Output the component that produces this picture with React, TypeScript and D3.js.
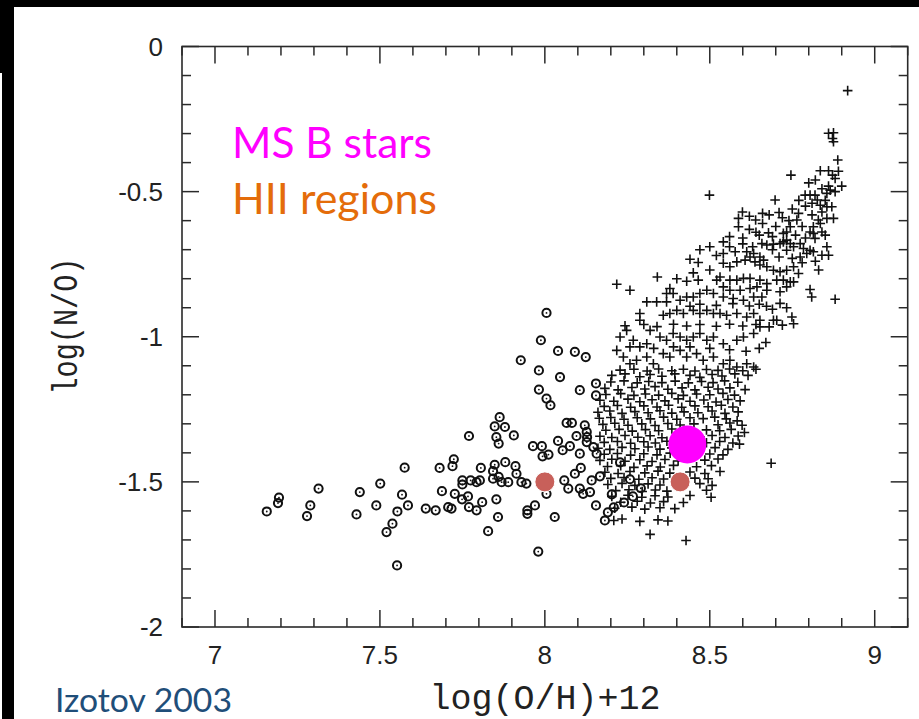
import React from "react";
import * as d3 from "d3";

// ---- data (log(O/H)+12, log(N/O)) ----
const dwarfCircles: [number, number][] = [
  [7.157,-1.602],[7.194,-1.554],[7.191,-1.573],[7.279,-1.618],[7.289,-1.581],[7.314,-1.523],
  [7.429,-1.612],[7.439,-1.535],[7.501,-1.506],[7.489,-1.581],[7.575,-1.451],[7.567,-1.544],
  [7.585,-1.581],[7.553,-1.602],[7.538,-1.644],[7.520,-1.673],[7.552,-1.788],[7.681,-1.452],
  [7.724,-1.422],[7.720,-1.446],[7.688,-1.532],[7.639,-1.592],[7.669,-1.598],[7.707,-1.587],
  [7.717,-1.592],[7.727,-1.541],[7.750,-1.495],[7.750,-1.509],[7.749,-1.560],[7.767,-1.550],
  [7.770,-1.587],[7.775,-1.495],[7.793,-1.598],[7.793,-1.501],[7.803,-1.495],[7.806,-1.452],
  [7.810,-1.570],[7.770,-1.342],[7.828,-1.670],[7.843,-1.489],[7.848,-1.441],[7.843,-1.463],
  [7.860,-1.483],[7.853,-1.560],[7.858,-1.621],[7.863,-1.277],[7.848,-1.309],[7.879,-1.311],
  [7.906,-1.340],[7.853,-1.346],[7.860,-1.368],[7.880,-1.432],[7.869,-1.501],[7.889,-1.501],
  [7.911,-1.446],[7.914,-1.472],[7.929,-1.501],[7.944,-1.506],[7.947,-1.598],[7.947,-1.610],
  [7.970,-1.581],[7.964,-1.377],[7.991,-1.377],[7.993,-1.412],[8.011,-1.406],[8.005,-1.541],
  [8.030,-1.621],[7.988,-1.012],[8.005,-0.918],[7.927,-1.081],[7.982,-1.116],[8.040,-1.049],
  [8.046,-1.139],[8.091,-1.052],[8.124,-1.070],[7.982,-1.182],[8.005,-1.213],[8.017,-1.236],
  [8.106,-1.184],[8.155,-1.161],[8.155,-1.202],[8.066,-1.297],[8.082,-1.297],[8.121,-1.305],
  [8.127,-1.328],[8.128,-1.346],[8.127,-1.363],[8.096,-1.342],[8.040,-1.359],[8.054,-1.391],
  [8.076,-1.377],[8.106,-1.403],[8.091,-1.472],[8.109,-1.452],[8.059,-1.495],[8.071,-1.523],
  [8.106,-1.523],[8.137,-1.535],[8.116,-1.541],[8.142,-1.495],[8.157,-1.403],[8.147,-1.380],
  [7.980,-1.740],[8.182,-1.633],[8.191,-1.605],[8.209,-1.588],[8.240,-1.571],[8.267,-1.550],
  [8.291,-1.522],[8.203,-1.543],[8.167,-1.481],[8.228,-1.433],[8.258,-1.491],[8.155,-1.581],
];

const spiralCrosses: [number, number][] = [
  [8.918,-0.152],[8.860,-0.299],[8.875,-0.297],[8.872,-0.317],[8.875,-0.328],[8.888,-0.391],
  [8.746,-0.443],[8.835,-0.428],[8.860,-0.428],[8.872,-0.443],[8.880,-0.455],[8.900,-0.481],
  [8.789,-0.512],[8.804,-0.512],[8.819,-0.512],[8.826,-0.529],[8.835,-0.547],[8.855,-0.552],
  [8.870,-0.552],[8.860,-0.481],[8.865,-0.495],[8.855,-0.506],[8.499,-0.512],[8.698,-0.529],
  [8.710,-0.572],[8.599,-0.570],[8.587,-0.592],[8.587,-0.621],[8.639,-0.598],[8.769,-0.575],
  [8.764,-0.598],[8.744,-0.621],[8.723,-0.644],[8.733,-0.639],[8.829,-0.598],[8.855,-0.592],
  [8.875,-0.592],[8.814,-0.621],[8.835,-0.610],[8.678,-0.642],[8.804,-0.639],[8.814,-0.644],
  [8.840,-0.639],[8.850,-0.650],[8.819,-0.661],[8.541,-0.673],[8.541,-0.713],[8.577,-0.707],
  [8.658,-0.679],[8.673,-0.684],[8.693,-0.681],[8.713,-0.679],[8.723,-0.673],[8.733,-0.667],
  [8.744,-0.679],[8.733,-0.702],[8.754,-0.690],[8.774,-0.679],[8.784,-0.696],[8.804,-0.702],
  [8.814,-0.707],[8.855,-0.690],[8.860,-0.719],[8.840,-0.719],[8.794,-0.713],[8.774,-0.725],
  [8.440,-0.733],[8.465,-0.744],[8.341,-0.794],[8.430,-0.809],[8.465,-0.805],[8.218,-0.819],
  [8.258,-0.840],[8.612,-0.707],[8.633,-0.713],[8.652,-0.725],[8.663,-0.736],
  [8.541,-0.747],[8.561,-0.759],[8.582,-0.742],[8.607,-0.736],[8.622,-0.725],[8.637,-0.742],
  [8.652,-0.753],[8.673,-0.759],[8.693,-0.771],[8.713,-0.776],[8.733,-0.771],[8.754,-0.759],
  [8.769,-0.782],[8.703,-0.805],[8.723,-0.805],[8.744,-0.811],[8.673,-0.817],[8.652,-0.805],
  [8.622,-0.799],[8.602,-0.799],[8.582,-0.805],[8.561,-0.805],[8.531,-0.794],[8.521,-0.805],
  [8.541,-0.828],[8.561,-0.840],[8.592,-0.840],[8.622,-0.834],[8.643,-0.828],[8.673,-0.840],
  [8.713,-0.845],[8.733,-0.828],[8.754,-0.811],[8.658,-0.863],[8.633,-0.863],[8.602,-0.874],
  [8.571,-0.868],[8.541,-0.863],[8.511,-0.851],[8.491,-0.840],[8.470,-0.851],[8.450,-0.863],
  [8.430,-0.863],[8.410,-0.874],[8.389,-0.851],[8.369,-0.851],[8.379,-0.834],
  [8.804,-0.837],[8.809,-0.863],[8.880,-0.871],[8.672,-0.895],[8.713,-0.885],[8.733,-0.900],[8.690,-0.905],
  [8.309,-0.880],[8.339,-0.880],[8.369,-0.880],[8.288,-0.920],[8.288,-0.943],
  [8.359,-0.926],[8.379,-0.920],[8.400,-0.909],[8.420,-0.920],[8.450,-0.909],[8.470,-0.920],
  [8.491,-0.909],[8.511,-0.920],[8.531,-0.920],[8.551,-0.926],[8.582,-0.920],[8.612,-0.932],
  [8.633,-0.920],[8.652,-0.943],[8.693,-0.943],[8.749,-0.932],[8.754,-0.955],
  [8.228,-1.001],[8.248,-0.978],[8.258,-1.035],[8.268,-1.012],[8.288,-1.035],[8.309,-1.024],
  [8.319,-0.978],[8.349,-1.001],[8.369,-1.012],[8.389,-0.989],[8.410,-1.001],[8.430,-1.012],
  [8.450,-1.001],[8.470,-0.989],[8.491,-1.012],[8.511,-1.001],[8.541,-1.024],[8.582,-1.012],
  [8.602,-1.001],[8.633,-0.989],[8.652,-0.966],[8.703,-0.943],
  [8.218,-1.047],[8.238,-1.070],[8.258,-1.093],[8.278,-1.081],[8.309,-1.070],[8.329,-1.093],
  [8.359,-1.058],[8.379,-1.070],[8.410,-1.047],[8.430,-1.070],[8.460,-1.058],[8.480,-1.081],
  [8.511,-1.070],[8.541,-1.093],[8.561,-1.081],[8.582,-1.104],[8.612,-1.093],[8.633,-1.104],
  [8.203,-1.133],[8.243,-1.128],[8.288,-1.138],[8.319,-1.130],[8.355,-1.136],[8.394,-1.128],
  [8.440,-1.133],[8.470,-1.140],[8.507,-1.130],[8.537,-1.135],[8.576,-1.128],[8.616,-1.133],
  [8.182,-1.178],[8.222,-1.183],[8.264,-1.175],[8.303,-1.180],[8.334,-1.172],[8.373,-1.181],
  [8.416,-1.176],[8.455,-1.183],[8.495,-1.174],[8.525,-1.180],[8.561,-1.176],[8.607,-1.182],
  [8.167,-1.219],[8.209,-1.222],[8.252,-1.215],[8.288,-1.224],[8.325,-1.217],[8.364,-1.221],
  [8.404,-1.214],[8.440,-1.222],[8.482,-1.218],[8.519,-1.225],[8.555,-1.216],[8.592,-1.221],
  [8.161,-1.260],[8.197,-1.256],[8.234,-1.264],[8.273,-1.258],[8.313,-1.262],[8.349,-1.255],
  [8.385,-1.263],[8.422,-1.259],[8.464,-1.262],[8.507,-1.256],[8.546,-1.264],[8.586,-1.259],
  [8.176,-1.302],[8.212,-1.298],[8.252,-1.305],[8.294,-1.300],[8.334,-1.306],[8.373,-1.299],
  [8.410,-1.304],[8.452,-1.300],[8.525,-1.303],[8.561,-1.297],[8.598,-1.305],[8.583,-1.290],
  [8.167,-1.343],[8.203,-1.347],[8.243,-1.340],[8.282,-1.346],[8.319,-1.341],[8.355,-1.348],
  [8.397,-1.342],[8.470,-1.345],[8.507,-1.340],[8.546,-1.347],[8.586,-1.342],
  [8.161,-1.384],[8.197,-1.388],[8.234,-1.381],[8.273,-1.386],[8.313,-1.380],[8.349,-1.387],
  [8.385,-1.383],[8.470,-1.386],[8.516,-1.382],[8.555,-1.388],
  [8.167,-1.426],[8.203,-1.422],[8.243,-1.429],[8.288,-1.424],[8.325,-1.430],[8.364,-1.423],
  [8.404,-1.428],[8.485,-1.425],[8.525,-1.421],[8.686,-1.436],
  [8.182,-1.467],[8.222,-1.471],[8.258,-1.464],[8.303,-1.469],[8.343,-1.463],[8.379,-1.470],
  [8.440,-1.466],[8.485,-1.471],[8.531,-1.464],
  [8.191,-1.509],[8.234,-1.505],[8.273,-1.512],[8.313,-1.507],[8.349,-1.511],[8.470,-1.506],[8.507,-1.512],
  [8.203,-1.550],[8.252,-1.546],[8.294,-1.553],[8.334,-1.548],[8.373,-1.552],[8.440,-1.547],[8.504,-1.553],
  [8.212,-1.591],[8.264,-1.587],[8.303,-1.594],[8.349,-1.589],[8.394,-1.592],
  [8.209,-1.633],[8.234,-1.628],[8.288,-1.636],[8.343,-1.631],[8.373,-1.635],
  [8.319,-1.681],[8.428,-1.702],
  [8.243,-0.962],[8.300,-0.958],[8.340,-0.965],[8.390,-0.957],[8.430,-0.963],[8.470,-0.958],
  [8.520,-0.964],[8.560,-0.957],[8.600,-0.963],[8.640,-0.958],[8.680,-0.966],[8.720,-0.960],
  [8.228,-1.115],[8.270,-1.112],[8.310,-1.118],[8.345,-1.111],[8.385,-1.117],[8.420,-1.112],
  [8.455,-1.118],[8.490,-1.113],[8.525,-1.116],[8.560,-1.111],[8.600,-1.117],[8.640,-1.112],
  [8.200,-1.156],[8.240,-1.152],[8.280,-1.159],[8.315,-1.154],[8.355,-1.158],[8.395,-1.153],
  [8.435,-1.159],[8.475,-1.154],[8.510,-1.158],[8.545,-1.152],[8.585,-1.157],
  [8.185,-1.199],[8.230,-1.196],[8.270,-1.202],[8.305,-1.197],[8.345,-1.201],[8.385,-1.195],
  [8.420,-1.202],[8.460,-1.197],[8.500,-1.200],[8.540,-1.195],[8.575,-1.201],
  [8.180,-1.240],[8.220,-1.237],[8.260,-1.243],[8.300,-1.238],[8.340,-1.242],[8.375,-1.236],
  [8.415,-1.243],[8.455,-1.238],[8.495,-1.241],[8.535,-1.236],[8.570,-1.242],
  [8.165,-1.281],[8.200,-1.278],[8.240,-1.284],[8.280,-1.279],[8.320,-1.283],[8.360,-1.277],
  [8.400,-1.284],[8.440,-1.279],[8.480,-1.282],[8.515,-1.277],[8.550,-1.283],
  [8.185,-1.322],[8.225,-1.319],[8.265,-1.325],[8.305,-1.320],[8.345,-1.324],[8.385,-1.318],
  [8.425,-1.325],[8.490,-1.321],[8.530,-1.324],[8.565,-1.319],
  [8.180,-1.364],[8.220,-1.361],[8.260,-1.367],[8.300,-1.362],[8.335,-1.366],[8.370,-1.360],
  [8.490,-1.365],[8.530,-1.361],[8.570,-1.366],
  [8.180,-1.405],[8.220,-1.402],[8.260,-1.408],[8.300,-1.403],[8.340,-1.407],[8.380,-1.401],
  [8.415,-1.408],[8.500,-1.404],[8.540,-1.407],
  [8.190,-1.447],[8.230,-1.444],[8.270,-1.450],[8.310,-1.445],[8.350,-1.449],[8.390,-1.443],
  [8.460,-1.448],[8.505,-1.444],
  [8.200,-1.488],[8.240,-1.485],[8.285,-1.491],[8.325,-1.486],[8.360,-1.490],[8.455,-1.487],[8.495,-1.489],
  [8.215,-1.530],[8.255,-1.527],[8.295,-1.533],[8.335,-1.528],[8.370,-1.532],[8.490,-1.529],
  [8.230,-1.570],[8.280,-1.567],[8.320,-1.573],[8.360,-1.568],[8.420,-1.571],
  [8.470,-0.700],[8.500,-0.690],[8.520,-0.720],[8.560,-0.690],[8.600,-0.680],[8.630,-0.690],
  [8.690,-0.700],[8.710,-0.725],[8.750,-0.730],[8.780,-0.745],[8.820,-0.740],[8.830,-0.770],
  [8.620,-0.630],[8.660,-0.610],[8.700,-0.620],[8.740,-0.600],[8.780,-0.620],[8.790,-0.550],
  [8.750,-0.560],[8.720,-0.590],[8.680,-0.580],[8.650,-0.650],
  [8.800,-0.470],[8.820,-0.460],[8.840,-0.490],[8.770,-0.530],[8.810,-0.540],[8.850,-0.530],
  [8.880,-0.500],[8.890,-0.430],
  [8.470,-0.888],[8.520,-0.892],[8.570,-0.886],[8.620,-0.894],[8.650,-0.888],[8.440,-0.895],
  [8.560,-0.655],[8.600,-0.660],[8.640,-0.640],[8.690,-0.655],[8.760,-0.650],[8.790,-0.660],
  [8.620,-0.585],[8.660,-0.575],[8.810,-0.580],[8.840,-0.570],
  [8.650,-1.040],[8.670,-1.020],[8.440,-1.035],[8.500,-1.040],[8.560,-1.045],[8.390,-1.035],
  [8.330,-1.040],[8.610,-1.050],[8.450,-0.780],[8.500,-0.770],[8.400,-0.800],
  [8.605,-1.330],[8.590,-1.370],
];

const msbStars: [number, number][] = [[8.432, -1.371]];
const hiiRegions: [number, number][] = [[8.0, -1.5], [8.41, -1.5]];

const xTickLabels = [7, 7.5, 8, 8.5, 9];
const yTickLabels = [0, -0.5, -1, -1.5, -2];
const legendItems = [
  { label: "MS B stars", color: "#FF00FF" },
  { label: "HII regions", color: "#E46C0A" },
];
const xTitle = "log(O/H)+12";
const yTitle = "log(N/O)";
const credit = "Izotov 2003";

export default function App() {
  const W = 919, H = 719;
  const x = d3.scaleLinear().domain([6.9, 9.1]).range([182, 907.7]);
  const y = d3.scaleLinear().domain([0, -2]).range([46.5, 627]);
  const [x0, x1] = x.range();
  const [y0, y1] = y.range();
  const isMajor = (v: number) => Math.abs(v * 2 - Math.round(v * 2)) < 1e-6;
  const xt = x.ticks(22);
  const yt = y.ticks(20);
  const axisColor = "#2a2a2a";
  const major = 17, minor = 9;
  const cs = 4.8;

  return (
    <svg width={W} height={H} style={{ position: "absolute", left: 0, top: 0, background: "#fff" }}>
      <rect x={0} y={0} width={W} height={H} fill="#fff" />
      <rect x={0} y={0} width={W} height={7} fill="#000" />
      <rect x={2} y={0} width={12} height={H} fill="#000" />
      <rect x={0} y={0} width={2} height={73} fill="#000" />

      {/* frame */}
      <rect x={x0} y={y0} width={x1 - x0} height={y1 - y0} fill="none" stroke={axisColor} strokeWidth={1.6} />
      {xt.map((v, i) => {
        const L = isMajor(v) ? major : minor;
        const px = x(v);
        return (
          <g key={"xt" + i}>
            <line x1={px} x2={px} y1={y0} y2={y0 + L} stroke={axisColor} strokeWidth={1.5} />
            <line x1={px} x2={px} y1={y1} y2={y1 - L} stroke={axisColor} strokeWidth={1.5} />
          </g>
        );
      })}
      {yt.map((v, i) => {
        const L = isMajor(v) ? major : minor;
        const py = y(v);
        return (
          <g key={"yt" + i}>
            <line x1={x0} x2={x0 + L} y1={py} y2={py} stroke={axisColor} strokeWidth={1.5} />
            <line x1={x1} x2={x1 - L} y1={py} y2={py} stroke={axisColor} strokeWidth={1.5} />
          </g>
        );
      })}
      {xTickLabels.map((v) => (
        <text key={"xl" + v} x={x(v)} y={664} textAnchor="middle" fontFamily="Liberation Sans, Arial, sans-serif" fontSize={26} fill="#222">
          {String(v)}
        </text>
      ))}
      {yTickLabels.map((v) => (
        <text key={"yl" + v} x={163} y={y(v)} dy="0.36em" textAnchor="end" fontFamily="Liberation Sans, Arial, sans-serif" fontSize={26} fill="#222">
          {String(v)}
        </text>
      ))}

      {/* axis titles */}
      <text x={545} y={709} textAnchor="middle" fontFamily="Liberation Mono, DejaVu Sans Mono, monospace" fontSize={35} fill="#222">
        {xTitle}
      </text>
      <text transform={`translate(77,326) rotate(-90)`} textAnchor="middle" fontFamily="Liberation Mono, DejaVu Sans Mono, monospace" fontSize={35} fill="#222"
        textLength={137} lengthAdjust="spacingAndGlyphs">
        {yTitle}
      </text>

      {/* dwarf galaxies: open circles */}
      {dwarfCircles.map(([a, b], i) => (
        <g key={"c" + i}>
          <circle cx={x(a)} cy={y(b)} r={4.1} fill="none" stroke="#111" strokeWidth={2} />
          <circle cx={x(a)} cy={y(b)} r={0.9} fill="#111" />
        </g>
      ))}
      {/* spirals: crosses */}
      {spiralCrosses.map(([a, b], i) => (
        <path key={"p" + i} d={`M${x(a) - cs},${y(b)}H${x(a) + cs}M${x(a)},${y(b) - cs}V${y(b) + cs}`} stroke="#111" strokeWidth={1.6} fill="none" />
      ))}

      {/* overlays */}
      {msbStars.map(([a, b], i) => (
        <circle key={"m" + i} cx={x(a)} cy={y(b)} r={19} fill="#FF00FF" />
      ))}
      {hiiRegions.map(([a, b], i) => (
        <circle key={"h" + i} cx={x(a)} cy={y(b)} r={10} stroke="#fff" strokeWidth={1} fill="#C8605A" />
      ))}

      {/* legend */}
      {legendItems.map((d, i) => (
        <text key={d.label} x={232} y={158 + i * 56} fontFamily="Lato, Open Sans, sans-serif" fontSize={42} fill={d.color}
          textLength={i === 0 ? 200 : 205} lengthAdjust="spacingAndGlyphs">
          {d.label}
        </text>
      ))}
      <text x={55} y={712} fontFamily="Lato, Open Sans, sans-serif" fontSize={33} fill="#1F4E79" textLength={177} lengthAdjust="spacingAndGlyphs">
        {credit}
      </text>
    </svg>
  );
}
